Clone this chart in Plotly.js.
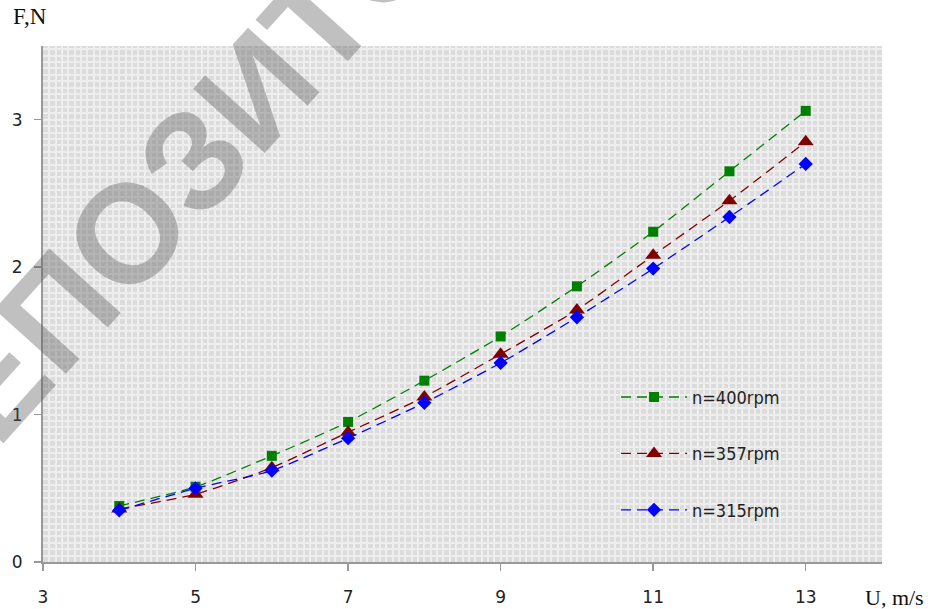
<!DOCTYPE html>
<html>
<head>
<meta charset="utf-8">
<script src="https://cdn.plot.ly/plotly-3.0.1.min.js"></script>
<style>html,body{margin:0;padding:0;background:#fff;}#chart{width:928px;height:609px;}</style>
</head>
<body>
<div id="chart"></div>
<script>
// Data
const speedU = [4, 5, 6, 7, 8, 9, 10, 11, 12, 13];
const force400 = [0.38, 0.51, 0.72, 0.95, 1.23, 1.53, 1.87, 2.24, 2.65, 3.06];
const force357 = [0.36, 0.46, 0.64, 0.88, 1.12, 1.41, 1.71, 2.08, 2.45, 2.85];
const force315 = [0.35, 0.50, 0.62, 0.84, 1.08, 1.35, 1.66, 1.99, 2.34, 2.70];
const seriesNames = ['n=400rpm', 'n=357rpm', 'n=315rpm'];
const xTicks = [3, 5, 7, 9, 11, 13];
const yTicks = [0, 1, 2, 3];

const dashPat = '10px,6px';
const traces = [
  {x: speedU, y: force400, name: seriesNames[0], legendgroup: 'a', mode: 'lines+markers', type: 'scatter',
   line: {color: '#008000', width: 1.3, dash: dashPat, shape: 'spline', smoothing: 0.6},
   marker: {symbol: 'square', size: 10, color: '#008000'}},
  {x: speedU, y: force357, name: seriesNames[1], legendgroup: 'b', mode: 'lines+markers', type: 'scatter',
   line: {color: '#800000', width: 1.3, dash: dashPat, shape: 'spline', smoothing: 0.6},
   marker: {symbol: 'triangle-up', size: 14, color: '#800000'}},
  {x: speedU, y: force315, name: seriesNames[2], legendgroup: 'c', mode: 'lines+markers', type: 'scatter',
   line: {color: '#0000ff', width: 1.3, dash: dashPat, shape: 'spline', smoothing: 0.6},
   marker: {symbol: 'diamond', size: 11, color: '#0000ff'}}
];

const tickFont = {family: 'DejaVu Sans, Verdana, sans-serif', size: 17, color: '#222'};
const layout = {
  width: 928, height: 609,
  margin: {l: 43, r: 46, t: 46, b: 47},
  paper_bgcolor: '#ffffff',
  plot_bgcolor: '#dcdcdc',
  showlegend: true,
  legend: {x: 0.683, y: 0.355, xanchor: 'left', yanchor: 'top', bgcolor: 'rgba(0,0,0,0)',
           font: {family: 'DejaVu Sans Condensed, Liberation Sans Narrow, sans-serif', size: 18, color: '#222'},
           itemwidth: 66, tracegroupgap: 30},
  xaxis: {range: [3, 14], tickvals: xTicks, ticktext: xTicks.map(String), ticks: 'outside', ticklen: 7, tickcolor: '#999',
          tickwidth: 1.5, showline: true, linecolor: '#999', linewidth: 2, zeroline: false,
          showgrid: true, gridcolor: '#eeeeee', gridwidth: 2, tickfont: tickFont, ticklabelstandoff: 12,
          minor: {dtick: 1/12, tick0: 3, showgrid: true, gridcolor: '#eeeeee', gridwidth: 2, ticks: ''}},
  yaxis: {range: [0, 3.5], tickvals: yTicks, ticktext: yTicks.map(String), ticks: 'outside', ticklen: 7, tickcolor: '#999',
          tickwidth: 1.5, showline: true, linecolor: '#999', linewidth: 2, zeroline: false,
          showgrid: true, gridcolor: '#eeeeee', gridwidth: 2, tickfont: tickFont, ticklabelstandoff: 8,
          minor: {dtick: 1/23, tick0: 0, showgrid: true, gridcolor: '#eeeeee', gridwidth: 2, ticks: ''}},
  annotations: [
    {text: 'F,N', xref: 'paper', yref: 'paper', x: -0.038, y: 1.03, xanchor: 'left', yanchor: 'bottom', showarrow: false,
     font: {family: 'Liberation Serif, Times New Roman, serif', size: 23, color: '#111'}},
    {text: 'U, m/s', xref: 'paper', yref: 'paper', x: 1.052, y: -0.068, xanchor: 'right', yanchor: 'middle', showarrow: false,
     font: {family: 'Liberation Serif, Times New Roman, serif', size: 22, color: '#111'}},
    {text: 'РЕПОЗИТОРИЙ', xref: 'paper', yref: 'paper', x: 0.255, y: 0.915, xanchor: 'center', yanchor: 'middle',
     showarrow: false, textangle: -48,
     font: {family: 'Liberation Sans, Arial, sans-serif', size: 140, weight: 'bold', color: 'rgba(90,90,90,0.38)'}}
  ]
};

Plotly.newPlot('chart', traces, layout, {displayModeBar: false, staticPlot: true});
</script>
</body>
</html>
